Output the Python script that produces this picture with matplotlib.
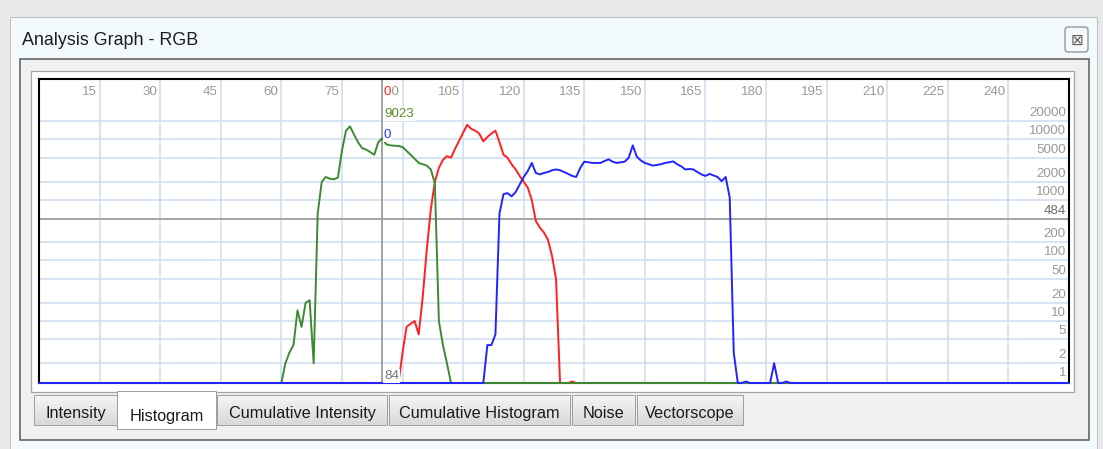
import numpy as np
import matplotlib.pyplot as plt
from matplotlib import font_manager
from matplotlib.colors import LinearSegmentedColormap
from matplotlib.patches import Rectangle, FancyBboxPatch

W, H = 1103, 449

# histogram counts per bin (0..255), listed from the first non-empty bin
red_start = 90
red_counts = [3, 8, 9, 10, 6, 25, 150, 700, 2000, 3400, 4600, 5300, 5000,
              7000, 9500, 13000, 17500, 15000, 14000, 12500, 9300, 11000,
              12500, 14000, 9000, 5600, 5000, 3900, 3200, 2500, 2000, 1600,
              1000, 450, 350, 290, 220, 120, 50, 0, 0, 0, 1]
green_start = 61
green_counts = [2, 3, 4, 15, 8, 20, 22, 2, 600, 2000, 2400, 2250, 2200,
                2350, 6500, 14000, 16500, 12000, 9000, 7200, 6800, 6200,
                5600, 9023, 10500, 8300, 8000, 7900, 7800, 7500, 6500, 5600,
                4800, 4100, 3900, 3700, 3200, 1900, 10, 4, 2]
blue_start = 111
blue_counts = [4, 4, 6, 600, 1250, 1300, 1150, 1350, 1800, 2400, 3000, 4100,
               2800, 2650, 2800, 2900, 3100, 3200, 3100, 2900, 2700, 2500,
               2400, 3400, 4300, 4200, 4100, 4100, 4100, 4400, 4700, 4300,
               4100, 4200, 4300, 5000, 8000, 5200, 4500, 4100, 3900, 3700,
               3800, 3900, 4100, 4200, 4350, 3900, 3600, 3200, 3250, 3200,
               2900, 2650, 2500, 2700, 2550, 2400, 2050, 2400, 1100, 3, 0,
               0, 1, 0, 0, 0, 0, 0, 0, 2, 0, 0, 1]

x_ticks = list(range(15, 241, 15))
y_ticks = [1, 2, 5, 10, 20, 50, 100, 200, 1000, 2000, 5000, 10000, 20000]
cursor_bin = 84
cursor_level = 484

tab_names = ["Intensity", "Histogram", "Cumulative Intensity",
             "Cumulative Histogram", "Noise", "Vectorscope"]
active_tab = 1


def channel(start, counts):
    arr = np.zeros(256)
    arr[start:start + len(counts)] = counts
    return arr


red = channel(red_start, red_counts)
green = channel(green_start, green_counts)
blue = channel(blue_start, blue_counts)
bins = np.arange(256)

zero_level = -0.025   # empty bins sit just under the "1" line


def to_log(arr):
    return np.where(arr > 0, np.log10(np.maximum(arr, 1)), zero_level)


names = {f.name for f in font_manager.fontManager.ttflist}
if 'Liberation Sans Narrow' in names:
    ui_font, fs = 'Liberation Sans Narrow', 1.0
else:
    ui_font, fs = 'Liberation Sans', 0.84

fig = plt.figure(figsize=(W / 100, H / 100), dpi=100)
fig.patch.set_facecolor('#e9e9e9')

# window chrome, drawn in pixel coordinates
ui = fig.add_axes([0, 0, 1, 1])
ui.set_xlim(0, W)
ui.set_ylim(H, 0)
ui.axis('off')


def box(x0, y0, x1, y1, fc, ec, lw=0.72, z=1):
    ui.add_patch(Rectangle((x0, y0), x1 - x0, y1 - y0, facecolor=fc,
                           edgecolor=ec, linewidth=lw, zorder=z))


box(10, 17, 1097, 470, '#f3fafd', '#bdbdbd')
ui.text(22, 45, 'Analysis Graph - RGB', fontsize=15.3 * fs, family=ui_font,
        color='#1e1e1e', va='baseline')
ui.add_patch(FancyBboxPatch((1065, 27), 23, 25,
                            boxstyle='round,pad=0,rounding_size=3',
                            fc='#f6f8f9', ec='#8c8c8c', lw=0.9, zorder=2))
ui.text(1076.5, 40, '\u22a0', fontsize=11, family='DejaVu Sans',
        color='#5a5a5a', ha='center', va='center', zorder=3)

box(20, 59, 1089, 440, '#f0f0f0', '#5a5a5a', lw=1.1)
box(31, 71, 1074, 392, 'white', '#a5a5a5', lw=0.9)

tab_edges = [(34, 117), (117, 216), (217, 387), (389, 570), (572, 635), (637, 743)]
tab_cmap = LinearSegmentedColormap.from_list('tab', ['#f5f5f5', '#d9d9d9'])
grad = np.linspace(0, 1, 32).reshape(-1, 1)
for i, (name, (x0, x1)) in enumerate(zip(tab_names, tab_edges)):
    if i == active_tab:
        box(x0, 391, x1, 429, 'white', '#a0a0a0', z=4)
        base = 421
    else:
        ui.imshow(grad, cmap=tab_cmap, extent=(x0, x1, 425, 395),
                  aspect='auto', zorder=2)
        ui.add_patch(Rectangle((x0, 395), x1 - x0, 30, fill=False,
                               ec='#a0a0a0', lw=0.72, zorder=3))
        base = 418
    ui.text((x0 + x1) / 2, base, name, ha='center', va='baseline',
            fontsize=13.9 * fs, family=ui_font, color='#1a1a1a', zorder=5)
ui.set_xlim(0, W)
ui.set_ylim(H, 0)

# histogram plot, log count axis
ax = fig.add_axes([39 / W, 1 - 383 / H, 1030 / W, 304 / H])
ax.set_facecolor('white')
ax.set_xlim(0, 255)
ax.set_ylim(zero_level, 5)
ax.set_xticks([])
ax.set_yticks([])
for sp in ax.spines.values():
    sp.set_linewidth(1.5)
    sp.set_color('black')

grid_c = '#cfdff0'
for v in x_ticks:
    ax.axvline(v, color=grid_c, lw=1.2, zorder=0)
for c in y_ticks[1:]:
    ax.axhline(np.log10(c), color=grid_c, lw=1.2, zorder=0)

tick_c = '#999999'
lab = dict(family=ui_font, fontsize=11.5 * fs, textcoords='offset pixels')
for v in x_ticks:
    ax.annotate(str(v), xy=(v, 1), xycoords=('data', 'axes fraction'),
                xytext=(-3, -16), ha='right', va='baseline', color=tick_c,
                zorder=1, **lab)
for c in y_ticks:
    ax.annotate(str(c), xy=(1, np.log10(c)), xycoords=('axes fraction', 'data'),
                xytext=(-3, 5), ha='right', va='baseline', color=tick_c,
                bbox=dict(boxstyle='square,pad=0.05', fc='white', ec='none'),
                zorder=1, **lab)

# cursor cross-hair
cx = cursor_bin + 0.9
ax.axvline(cx, color='#a3a3a3', lw=1.4, zorder=1)
ax.axhline(np.log10(cursor_level), color='#a3a3a3', lw=1.4, zorder=1)

ax.plot(bins, to_log(red), color='#ff2020', lw=1.4, zorder=3, clip_on=False)
ax.plot(bins, to_log(green), color='#3d8a33', lw=1.4, zorder=4, clip_on=False)
ax.plot(bins, to_log(blue), color='#2323ff', lw=1.4, zorder=5, clip_on=False)

white = dict(boxstyle='square,pad=0.08', fc='white', ec='none')
readout = [(red[cursor_bin], '#ff2020', -16), (green[cursor_bin], '#5a8a2a', -38),
           (blue[cursor_bin], '#3030ff', -59)]
for val, col, dy in readout:
    ax.annotate('%d' % val, xy=(cx, 1), xycoords=('data', 'axes fraction'),
                xytext=(2, dy), ha='left', va='baseline', color=col,
                bbox=white, zorder=6, **lab)
ax.annotate(str(cursor_bin), xy=(cx, 0), xycoords=('data', 'axes fraction'),
            xytext=(2, 4), ha='left', va='baseline', color='#7a7a7a',
            bbox=white, zorder=6, **lab)
ax.annotate(str(cursor_level), xy=(1, np.log10(cursor_level)),
            xycoords=('axes fraction', 'data'), xytext=(-3, 5), ha='right',
            va='baseline', color='#6e6e6e', bbox=white, zorder=6, **lab)

fig.savefig('out.png', dpi=100, facecolor=fig.get_facecolor())
